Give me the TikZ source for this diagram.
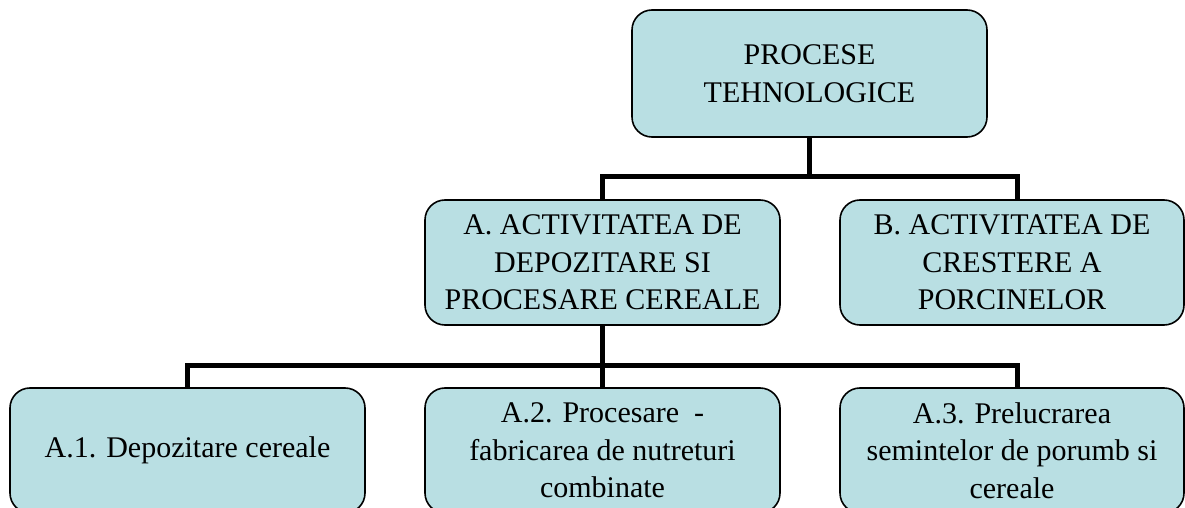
\documentclass[tikz,border=0pt]{standalone}
\usepackage{fontspec}
\setmainfont{Liberation Serif}
\usepackage{tikz}
\definecolor{boxfill}{HTML}{B9DFE3}
\tikzset{box/.style={draw=black, line width=0.8pt, fill=boxfill, rounded corners=10pt,
    minimum width=177.5pt, minimum height=62.5pt, inner sep=2pt, align=center,
    font=\fontsize{15}{18.75}\selectfont}}
\tikzset{conn/.style={line width=2.5pt, line join=miter}}

\begin{document}
\begin{tikzpicture}[x=0.5pt, y=-0.5pt]
      \useasboundingbox (0,0) rectangle (1185,508);
      \clip (0,0) rectangle (1185,508);

      \node[box, minimum height=63.5pt] (P) at (809.5, 73.5) {PROCESE\\TEHNOLOGICE};
      \node[box] (A) at (602.5, 262.5) {A. ACTIVITATEA DE\\DEPOZITARE SI\\PROCESARE CEREALE};
      \node[box, minimum width=172pt] (B) at (1012, 262.5) {B. ACTIVITATEA DE\\CRESTERE A\\PORCINELOR};
      \node[box] (A1) at (187.5, 450.5) {A.1. Depozitare cereale};
      \node[box] (A2) at (602.5, 450.5) {A.2. Procesare\ \ -\\fabricarea de nutreturi\\combinate};
      \node[box, minimum width=172pt] (A3) at (1012, 450.5) {A.3. Prelucrarea\\semintelor de porumb si\\cereale};

      \coordinate (bar1) at (809.5, 177);
      \coordinate (bar2) at (602.5, 365);

      \draw[conn] (P.south) -- (bar1);
      \draw[conn] (A.north) |- (bar1) -| ([xshift=2.5pt]B.north);
      \draw[conn] (A1.north) |- (bar2) -| ([xshift=2.5pt]A3.north);
      \draw[conn] (A.south) -- (A2.north);
    \end{tikzpicture}
\end{document}
